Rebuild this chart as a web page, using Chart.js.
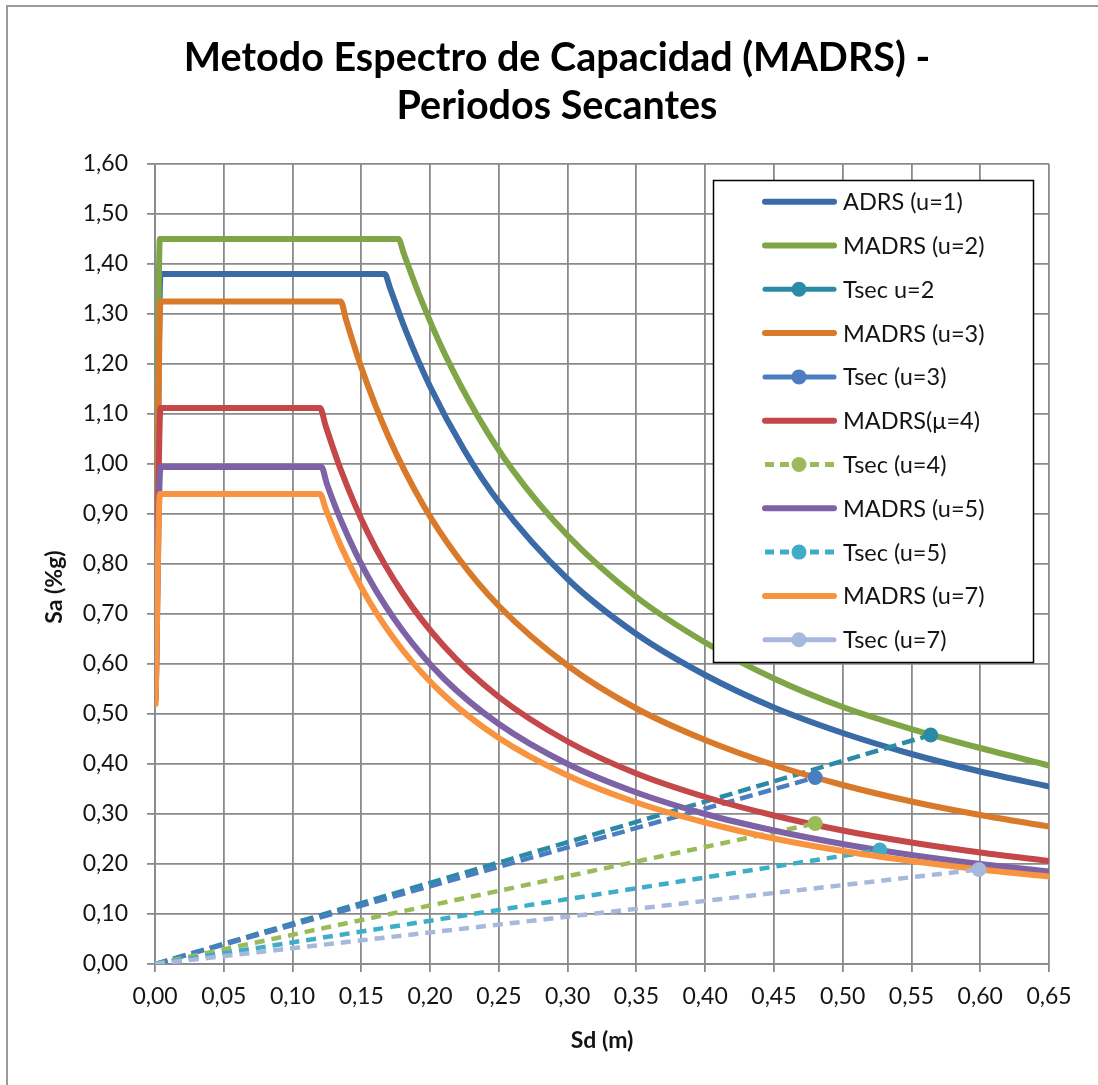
<!DOCTYPE html>
<html><head><meta charset="utf-8">
<script src="https://cdn.jsdelivr.net/npm/chart.js@4.4.1/dist/chart.umd.min.js"></script>
<style>html,body{margin:0;padding:0;background:#fff;overflow:hidden}</style>
</head><body>
<canvas id="c" width="1098" height="1085"></canvas>
<script>
// ---------- DATA ----------
const TITLE_LINES = ['Metodo Espectro de Capacidad (MADRS) -', 'Periodos Secantes'];
const X_TITLE = 'Sd (m)';
const Y_TITLE = 'Sa (%g)';
const X_MIN = 0, X_MAX = 0.65, X_STEP = 0.05;
const Y_MIN = 0, Y_MAX = 1.60, Y_STEP = 0.10;

const SERIES_NAMES = ['ADRS (u=1)', 'MADRS (u=2)', 'Tsec u=2', 'MADRS (u=3)', 'Tsec (u=3)',
  'MADRS(\u03bc=4)', 'Tsec (u=4)', 'MADRS (u=5)', 'Tsec (u=5)', 'MADRS (u=7)', 'Tsec (u=7)'];

// [Sd (m), Sa (g)]
const adrsU1 = [[0.0005,0.55],[0.004,1.38],[0.167,1.38],[0.171,1.351],[0.182,1.269],[0.20,1.155],[0.225,1.027],[0.25,0.924],[0.30,0.770],[0.35,0.660],[0.40,0.578],[0.45,0.513],[0.50,0.462],[0.55,0.420],[0.60,0.385],[0.65,0.355]];
const madrsU2 = [[0.0005,0.55],[0.0035,1.45],[0.177,1.45],[0.181,1.420],[0.192,1.339],[0.21,1.224],[0.235,1.094],[0.26,0.988],[0.30,0.857],[0.35,0.734],[0.40,0.643],[0.45,0.571],[0.50,0.514],[0.55,0.470],[0.60,0.432],[0.65,0.397]];
const tsecU2 = [[0,0],[0.564,0.458]];
const madrsU3 = [[0.0005,0.53],[0.004,1.325],[0.135,1.325],[0.139,1.288],[0.15,1.193],[0.17,1.053],[0.195,0.918],[0.22,0.814],[0.25,0.716],[0.30,0.597],[0.35,0.511],[0.40,0.448],[0.45,0.398],[0.50,0.358],[0.55,0.325],[0.60,0.298],[0.65,0.275]];
const tsecU3 = [[0,0],[0.480,0.373]];
const madrsU4 = [[0.0005,0.53],[0.004,1.112],[0.120,1.112],[0.124,1.077],[0.135,0.989],[0.155,0.861],[0.18,0.742],[0.21,0.636],[0.25,0.534],[0.30,0.445],[0.35,0.381],[0.40,0.334],[0.45,0.297],[0.50,0.267],[0.55,0.243],[0.60,0.223],[0.65,0.206]];
const tsecU4 = [[0,0],[0.480,0.281]];
const madrsU5 = [[0.0005,0.53],[0.004,0.994],[0.121,0.994],[0.125,0.960],[0.136,0.882],[0.155,0.774],[0.18,0.667],[0.21,0.571],[0.25,0.480],[0.30,0.400],[0.35,0.343],[0.40,0.300],[0.45,0.267],[0.50,0.240],[0.55,0.218],[0.60,0.200],[0.65,0.185]];
const tsecU5 = [[0,0],[0.527,0.228]];
const madrsU7 = [[0.0005,0.52],[0.0035,0.94],[0.120,0.94],[0.124,0.911],[0.135,0.837],[0.155,0.729],[0.18,0.628],[0.21,0.538],[0.25,0.452],[0.30,0.377],[0.35,0.323],[0.40,0.283],[0.45,0.251],[0.50,0.226],[0.55,0.206],[0.60,0.189],[0.65,0.175]];
const tsecU7 = [[0,0],[0.599,0.189]];

const SERIES_DATA = [adrsU1, madrsU2, tsecU2, madrsU3, tsecU3, madrsU4, tsecU4, madrsU5, tsecU5, madrsU7, tsecU7];

// ---------- STYLES ----------
const COLORS = ['#3A6BA7', '#7FA547', '#2B8BA6', '#D97A2B', '#4A7EC0', '#C4474A', '#9BBB59', '#7E62A6', '#40ADC8', '#F8943F', '#A6B8DC'];
const IS_TSEC = [false, false, true, false, true, false, true, false, true, false, true];
const PLOT_DASH = [[], [], [13, 6], [], [13, 6], [], [10, 7], [], [10, 7], [], [10, 7]];
const LEGEND_DASH = [[], [], [], [], [], [], [9, 6], [], [9, 6], [], []];
const FONT = 'Lato, "Open Sans", sans-serif';
const TXT = '#141414';
const GRID = '#8a8a8a';
const fmt = v => Number(v).toFixed(2).replace('.', ',');

const datasets = SERIES_DATA.map((arr, i) => ({
  label: SERIES_NAMES[i],
  data: arr.map(p => ({x: p[0], y: p[1]})),
  showLine: true,
  borderColor: COLORS[i],
  backgroundColor: COLORS[i],
  borderWidth: IS_TSEC[i] ? 4.5 : 6,
  borderDash: PLOT_DASH[i],
  borderCapStyle: IS_TSEC[i] ? 'butt' : 'round',
  borderJoinStyle: 'round',
  cubicInterpolationMode: IS_TSEC[i] ? 'default' : 'monotone',
  tension: 0,
  pointRadius: IS_TSEC[i] ? (ctx => ctx.dataIndex === 0 ? 0 : 7.5) : 0,
  pointHoverRadius: 0,
  pointBorderWidth: 0,
  order: -i
}));

const decor = {
  id: 'decor',
  afterDraw(chart) {
    const ctx = chart.ctx;
    ctx.save();
    // outer chart border
    ctx.strokeStyle = '#9a9a9a'; ctx.lineWidth = 2;
    ctx.strokeRect(7, 6, 1300, 1300);
    // title
    ctx.fillStyle = '#000';
    ctx.font = 'bold 39.5px ' + FONT;
    ctx.textAlign = 'center'; ctx.textBaseline = 'middle';
    TITLE_LINES.forEach((t, k) => ctx.fillText(t, 557, 58 + k * 48));
    // y axis title
    ctx.save();
    ctx.translate(55, 587); ctx.rotate(-Math.PI / 2);
    ctx.font = 'bold 23px ' + FONT; ctx.fillStyle = TXT;
    ctx.fillText(Y_TITLE, 0, 0);
    ctx.restore();
    // legend
    ctx.fillStyle = '#fff'; ctx.fillRect(713, 180, 320, 482);
    ctx.strokeStyle = '#000'; ctx.lineWidth = 1.5; ctx.strokeRect(713.5, 180.5, 320, 482);
    chart.data.datasets.forEach((ds, i) => {
      const y = 201.7 + i * 43.8;
      ctx.strokeStyle = ds.borderColor; ctx.lineWidth = IS_TSEC[i] ? 5 : 6;
      ctx.lineCap = LEGEND_DASH[i].length ? 'butt' : 'round';
      ctx.setLineDash(LEGEND_DASH[i]);
      ctx.beginPath(); ctx.moveTo(765, y); ctx.lineTo(834, y); ctx.stroke();
      ctx.setLineDash([]);
      if (IS_TSEC[i]) {
        ctx.fillStyle = ds.borderColor;
        ctx.beginPath(); ctx.arc(799, y, 7.5, 0, Math.PI * 2); ctx.fill();
      }
      ctx.fillStyle = TXT; ctx.font = '23.5px ' + FONT;
      ctx.textAlign = 'left'; ctx.textBaseline = 'middle';
      ctx.fillText(ds.label, 843, y + 1);
    });
    ctx.restore();
  }
};

new Chart(document.getElementById('c'), {
  type: 'scatter',
  data: { datasets },
  options: {
    responsive: false,
    animation: false,
    devicePixelRatio: 1,
    layout: { padding: { top: 164, right: 49, left: 0, bottom: 0 } },
    plugins: { legend: { display: false }, title: { display: false }, tooltip: { enabled: false } },
    scales: {
      x: {
        type: 'linear', min: X_MIN, max: X_MAX,
        ticks: { stepSize: X_STEP, callback: v => fmt(v), color: TXT, font: { family: FONT, size: 23 }, padding: 11, maxRotation: 0, autoSkip: false },
        grid: { color: GRID, lineWidth: 1.8, tickLength: 8, drawTicks: true },
        border: { color: GRID, width: 1.8 },
        title: { display: true, text: X_TITLE, color: TXT, font: { family: FONT, size: 23, weight: 'bold' }, padding: { top: 0, bottom: 31 } },
        afterFit: s => { s.height = 121; }
      },
      y: {
        type: 'linear', min: Y_MIN, max: Y_MAX,
        ticks: { stepSize: Y_STEP, callback: v => fmt(v), color: TXT, font: { family: FONT, size: 23 }, padding: 19, autoSkip: false },
        grid: { color: GRID, lineWidth: 1.8, tickLength: 8, drawTicks: true },
        border: { color: GRID, width: 1.8 },
        afterFit: s => { s.width = 155; }
      }
    }
  },
  plugins: [decor]
});
</script>
</body></html>
